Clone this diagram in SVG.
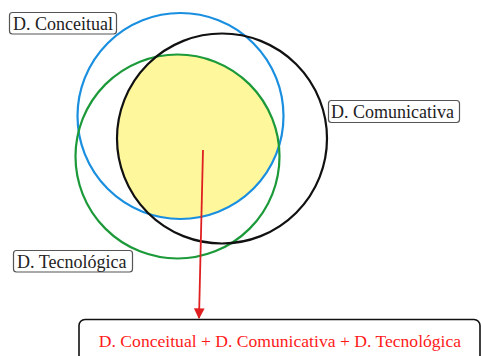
<svg xmlns="http://www.w3.org/2000/svg" width="481" height="356" viewBox="0 0 481 356">
<style>
.lbl rect{fill:#fff;stroke:#555;stroke-width:1.2}
.lbl text{font-family:'Liberation Serif','Times New Roman',serif;font-size:18px;fill:#222}
.c{fill:none;stroke-width:2.2}
.res{font-family:'Liberation Serif','Times New Roman',serif;font-size:17.6px;fill:#ff1a1a}
</style>
<defs>
<clipPath id="cb"><circle cx="180.5" cy="116" r="103"/></clipPath>
<clipPath id="cg"><circle cx="177.5" cy="156.5" r="102"/></clipPath>
<marker id="ah" viewBox="0 0 10 10" refX="9" refY="5" markerWidth="6" markerHeight="6" orient="auto"><path d="M0,0L10,5L0,10z" fill="#e02020"/></marker>
</defs>
<rect width="481" height="356" fill="#fff"/>
<g id="intersection" clip-path="url(#cb)"><g clip-path="url(#cg)"><circle cx="222" cy="138.5" r="105" fill="#fff79c"/></g></g>
<g id="circles">
<circle id="blue" class="c" cx="180.5" cy="116" r="103" stroke="#1a8fe0"/>
<circle id="green" class="c" cx="177.5" cy="156.5" r="102" stroke="#1c9a3a"/>
<circle id="black" class="c" cx="222" cy="138.5" r="105" stroke="#111"/>
</g>
<g id="n-conceitual" class="lbl"><rect x="9.5" y="12.5" width="107" height="21.5" rx="3"/><text x="13" y="29.5">D. Conceitual</text></g>
<g id="n-comunicativa" class="lbl"><rect x="328.5" y="100.5" width="131" height="22" rx="3"/><text x="331" y="118">D. Comunicativa</text></g>
<g id="n-tecnologica" class="lbl"><rect x="13.5" y="250.5" width="119" height="21.5" rx="3"/><text x="17" y="267.5">D. Tecnológica</text></g>
<g id="connectors"><line x1="203" y1="150" x2="199" y2="318" stroke="#e02020" stroke-width="1.8" marker-end="url(#ah)"/></g>
<g id="n-result"><rect x="79" y="319.5" width="401" height="45" rx="6" fill="#fff" stroke="#111" stroke-width="1.6"/><text class="res" x="280" y="347" text-anchor="middle">D. Conceitual + D. Comunicativa + D. Tecnológica</text></g>
</svg>
